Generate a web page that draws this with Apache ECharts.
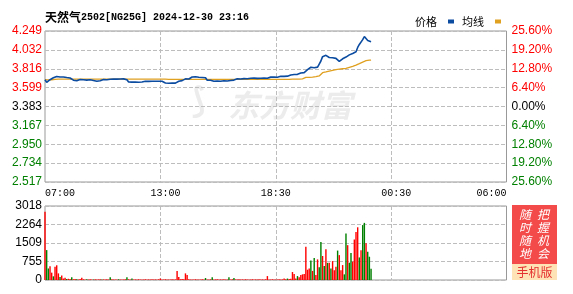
<!DOCTYPE html>
<html><head><meta charset="utf-8">
<script src="https://cdn.jsdelivr.net/npm/echarts@6/dist/echarts.min.js"></script>
<style>html,body{margin:0;padding:0;background:#fff}#c{width:573px;height:294px}</style>
</head><body><div id="c"></div><script>
// ---- text / ticks ----
const titleName = '天然气';
const titleCode = '2502[NG25G] 2024-12-30 23:16';
const legendNames = ['价格', '均线'];
const timeLabels = ['07:00', '13:00', '18:30', '00:30', '06:00'];
const gridTimes = ['12:45', '18:30', '00:15'];
const priceTicks = ['2.517', '2.734', '2.950', '3.167', '3.383', '3.599', '3.816', '4.032', '4.249'];
const pctTicks = ['25.60%', '19.20%', '12.80%', '6.40%', '0.00%', '6.40%', '12.80%', '19.20%', '25.60%'];
const volTicks = ['0', '755', '1509', '2264', '3018'];
const priceMin = 2.517, priceMax = 4.249, volMax = 3018;

// ---- series (5-minute steps from 07:00) ----
const prices = [
3.690,3.660,3.665,3.690,3.705,3.712,3.725,3.728,3.725,3.722,
3.720,3.722,3.718,3.715,3.712,3.710,3.705,3.685,3.680,3.678,
3.682,3.692,3.695,3.690,3.688,3.686,3.688,3.690,3.685,3.682,
3.673,3.672,3.675,3.678,3.690,3.692,3.694,3.690,3.693,3.695,
3.694,3.698,3.700,3.697,3.702,3.698,3.696,3.700,3.698,3.690,
3.664,3.665,3.663,3.666,3.664,3.665,3.662,3.666,3.664,3.668,
3.672,3.674,3.671,3.673,3.672,3.674,3.673,3.670,3.673,3.671,
3.672,3.670,3.652,3.655,3.650,3.653,3.652,3.655,3.651,3.660,
3.672,3.674,3.680,3.698,3.700,3.697,3.699,3.718,3.722,3.716,
3.725,3.720,3.718,3.722,3.716,3.719,3.712,3.684,3.686,3.684,
3.675,3.673,3.677,3.674,3.676,3.672,3.675,3.678,3.674,3.676,
3.675,3.682,3.684,3.686,3.688,3.700,3.702,3.698,3.700,3.703,
3.700,3.701,3.699,3.707,3.705,3.708,3.707,3.706,3.708,3.707,
3.712,3.708,3.706,3.707,3.710,3.720,3.718,3.722,3.720,3.719,
3.722,3.730,3.732,3.728,3.733,3.731,3.735,3.745,3.747,3.750,
3.748,3.752,3.755,3.767,3.770,3.772,3.790,3.805,3.825,3.833,
3.838,3.828,3.825,3.835,3.870,3.905,3.955,3.966,3.970,3.962,
3.945,3.940,3.942,3.938,3.935,3.925,3.900,3.888,3.930,3.945,
3.950,3.962,3.975,3.985,3.992,4.000,4.010,4.060,4.095,4.110,
4.150,4.185,4.180,4.140,4.130,4.126
];
const averages = [
3.690,3.688,3.688,3.689,3.690,3.691,3.693,3.695,3.696,3.696,
3.697,3.697,3.697,3.697,3.697,3.697,3.697,3.697,3.697,3.697,
3.697,3.697,3.697,3.697,3.697,3.697,3.697,3.697,3.697,3.697,
3.697,3.697,3.697,3.697,3.697,3.697,3.697,3.697,3.697,3.697,
3.697,3.697,3.697,3.697,3.697,3.697,3.697,3.697,3.697,3.697,
3.696,3.696,3.696,3.696,3.696,3.696,3.696,3.696,3.696,3.696,
3.696,3.696,3.696,3.696,3.696,3.696,3.696,3.696,3.696,3.696,
3.696,3.696,3.696,3.696,3.695,3.695,3.695,3.695,3.695,3.695,
3.695,3.695,3.695,3.695,3.695,3.695,3.695,3.695,3.695,3.695,
3.695,3.695,3.695,3.695,3.695,3.695,3.695,3.695,3.695,3.695,
3.695,3.695,3.695,3.695,3.695,3.695,3.695,3.695,3.695,3.695,
3.695,3.695,3.695,3.695,3.695,3.695,3.695,3.695,3.695,3.695,
3.695,3.695,3.695,3.695,3.695,3.695,3.695,3.695,3.695,3.695,
3.695,3.695,3.695,3.695,3.695,3.695,3.695,3.695,3.695,3.695,
3.695,3.695,3.695,3.695,3.695,3.695,3.695,3.695,3.696,3.696,
3.696,3.696,3.697,3.697,3.700,3.710,3.716,3.716,3.717,3.718,
3.719,3.722,3.725,3.728,3.733,3.755,3.771,3.775,3.780,3.785,
3.790,3.794,3.798,3.802,3.806,3.810,3.812,3.814,3.816,3.818,
3.820,3.826,3.832,3.838,3.844,3.850,3.858,3.866,3.875,3.884,
3.893,3.902,3.908,3.912,3.914,3.916
];
const volumes = [
2780,1220,470,560,300,150,540,600,270,120,
180,60,90,40,50,40,110,30,40,30,
20,40,90,30,20,30,20,30,25,20,
30,20,25,30,20,25,20,30,20,110,
30,20,25,20,30,20,25,20,30,110,
30,20,60,20,25,20,30,20,25,20,
30,20,25,20,30,20,25,20,30,60,
20,25,30,20,25,20,30,20,25,365,
120,30,40,30,270,200,30,20,25,20,
30,20,25,20,30,20,80,25,20,30,
110,20,25,30,20,25,20,30,20,25,
110,20,30,80,25,20,30,20,25,20,
30,20,25,20,30,20,25,20,30,20,
25,20,30,160,25,20,30,20,25,20,
30,20,25,60,30,60,40,50,325,244,
60,160,110,200,230,240,1353,420,470,800,
370,900,200,840,520,1550,980,570,1250,700,
704,474,771,400,541,1200,1015,400,609,230,
1895,1421,704,1100,750,1652,1961,2150,920,1218,
2240,2330,1500,1150,950,460
];
const volumeUp = [
1,0,0,1,1,0,1,1,1,0,
1,1,1,0,1,1,0,1,1,0,
1,1,1,1,1,0,1,1,1,0,
1,1,1,1,0,1,1,1,1,0,
1,1,1,1,0,1,1,1,1,0,
1,1,0,1,1,1,1,1,1,1,
1,1,1,1,1,1,1,1,1,1,
1,1,1,1,1,1,1,1,1,1,
1,1,1,1,1,1,1,1,1,1,
1,1,1,1,1,1,0,1,1,1,
0,1,1,1,1,1,1,1,1,1,
0,1,1,0,1,1,1,1,1,1,
1,1,1,1,1,1,1,1,1,1,
1,1,1,1,1,1,1,1,1,1,
1,1,1,1,1,0,1,1,1,1,
1,0,1,1,1,1,1,1,1,0,
1,0,1,1,0,0,1,0,1,0,
1,0,1,1,1,0,1,1,1,0,
0,1,0,0,1,1,1,1,0,1,
0,0,1,0,0,0
];

// category axis: every 5 minutes 07:00 -> 06:00 (next day)
const categories = [];
for (let m = 0; m <= 1380; m += 5) {
  const t = (7 * 60 + m) % 1440;
  categories.push(String(Math.floor(t / 60)).padStart(2, '0') + ':' + String(t % 60).padStart(2, '0'));
}

const RED = '#ff0000', GREEN = '#008000', BLACK = '#000000';
const BLUE = '#0b4ba0', ORANGE = '#e0a020';
const numFont = 'Liberation Sans, Arial, sans-serif';
const dashStyle = () => ({ color: '#bdbdbd', type: 'dashed', width: 1 });

const chart = echarts.init(document.getElementById('c'));
chart.setOption({
  animation: false,
  title: {
    left: 45, top: 11, padding: 0,
    text: '{a|' + titleName + '}{b|' + titleCode + '}',
    textStyle: {
      rich: {
        a: { fontFamily: 'Noto Sans CJK SC', fontSize: 12, color: '#000' },
        b: { fontFamily: 'Liberation Mono, DejaVu Sans Mono, monospace', fontSize: 10, color: '#000' }
      }
    }
  },
  legend: {
    data: legendNames, top: 11, right: 67, align: 'right', icon: 'rect',
    itemWidth: 6, itemHeight: 4, itemGap: 8,
    textStyle: { fontFamily: 'Noto Sans CJK SC', fontSize: 11, color: '#000', padding: [0, 6, 0, 0] }
  },
  grid: [
    { left: 45, right: 66.5, top: 31, height: 151, show: true, borderColor: '#999', borderWidth: 1 },
    { left: 45, right: 66.5, top: 206, height: 74, show: true, borderColor: '#999', borderWidth: 1 }
  ],
  xAxis: [
    {
      type: 'category', gridIndex: 0, data: categories, boundaryGap: false,
      axisLine: { show: false }, axisTick: { show: false },
      axisLabel: {
        interval: (i, v) => timeLabels.includes(v), margin: 6,
        fontFamily: 'Liberation Mono, DejaVu Sans Mono, monospace', fontSize: 10, color: '#000',
        alignMinLabel: 'left', alignMaxLabel: 'right', hideOverlap: false
      },
      splitLine: { show: true, interval: (i, v) => gridTimes.includes(v), lineStyle: dashStyle() }
    },
    {
      type: 'category', gridIndex: 1, data: categories, boundaryGap: false,
      axisLine: { show: false }, axisTick: { show: false }, axisLabel: { show: false },
      splitLine: { show: true, interval: (i, v) => gridTimes.includes(v), lineStyle: dashStyle() }
    }
  ],
  yAxis: [
    { // left price labels (tick index scale)
      type: 'value', gridIndex: 0, position: 'left', min: 0, max: 8, interval: 1,
      axisLine: { show: false }, axisTick: { show: false },
      splitLine: { show: true, lineStyle: dashStyle() },
      axisLabel: {
        margin: 3, fontSize: 12, fontFamily: numFont,
        formatter: v => priceTicks[Math.round(v)],
        color: v => (Math.round(v) > 4 ? RED : Math.round(v) < 4 ? GREEN : BLACK)
      }
    },
    { // right percent labels
      type: 'value', gridIndex: 0, position: 'right', min: 0, max: 8, interval: 1,
      axisLine: { show: false }, axisTick: { show: false }, splitLine: { show: false },
      axisLabel: {
        margin: 5, fontSize: 12, fontFamily: numFont,
        formatter: v => pctTicks[Math.round(v)],
        color: v => (Math.round(v) > 4 ? RED : Math.round(v) < 4 ? GREEN : BLACK)
      }
    },
    { // hidden price scale
      type: 'value', gridIndex: 0, min: priceMin, max: priceMax, show: false, splitLine: { show: false }
    },
    { // volume labels
      type: 'value', gridIndex: 1, position: 'left', min: 0, max: 4, interval: 1,
      axisLine: { show: false }, axisTick: { show: false },
      splitLine: { show: true, lineStyle: dashStyle() },
      axisLabel: { margin: 3, fontSize: 12, fontFamily: numFont, color: '#000', formatter: v => volTicks[Math.round(v)] }
    },
    { // hidden volume scale
      type: 'value', gridIndex: 1, min: 0, max: volMax, show: false, splitLine: { show: false }
    }
  ],
  series: [
    {
      name: legendNames[1], type: 'line', xAxisIndex: 0, yAxisIndex: 2, data: averages,
      showSymbol: false, symbol: 'none', z: 3,
      lineStyle: { color: ORANGE, width: 1.3 }, itemStyle: { color: ORANGE }
    },
    {
      name: legendNames[0], type: 'line', xAxisIndex: 0, yAxisIndex: 2, data: prices,
      showSymbol: false, symbol: 'none', z: 4,
      lineStyle: { color: BLUE, width: 1.6 }, itemStyle: { color: BLUE }
    },
    {
      name: '成交量', type: 'bar', xAxisIndex: 1, yAxisIndex: 4, data: volumes,
      barCategoryGap: '15%',
      itemStyle: { color: p => (volumeUp[p.dataIndex] ? RED : GREEN) }
    }
  ],
  graphic: [
    { type: 'text', silent: true, left: 228, top: 90, style: { text: '东方财富', fontSize: 31, fontWeight: 'bold', fontStyle: 'italic', fontFamily: 'Noto Sans CJK SC', fill: '#ececec' } },
    { type: 'text', silent: true, left: 192, top: 86, style: { text: '⟆', fontSize: 34, fontWeight: 'bold', fill: '#ececec' } },
    {
      type: 'group', left: 512, top: 205,
      children: [
        { type: 'rect', shape: { x: 0, y: 0, width: 45, height: 59 }, style: { fill: '#f34a4a' } },
        { type: 'rect', shape: { x: 0, y: 59, width: 45, height: 16 }, style: { fill: '#fde3b5' } },
        { type: 'text', x: 13, y: 2.5, style: { text: '随\n时\n随\n地', fontSize: 12, lineHeight: 13, fontFamily: 'Noto Sans CJK SC', fill: '#fff', align: 'center', fontStyle: 'italic' } },
        { type: 'text', x: 31, y: 2.5, style: { text: '把\n握\n机\n会', fontSize: 12, lineHeight: 13, fontFamily: 'Noto Sans CJK SC', fill: '#fff', align: 'center', fontStyle: 'italic' } },
        { type: 'text', x: 22.5, y: 67, style: { text: '手机版', fontSize: 12, fontFamily: 'Noto Sans CJK SC', fill: '#e53030', align: 'center', verticalAlign: 'middle' } }
      ]
    }
  ]
});
</script></body></html>
